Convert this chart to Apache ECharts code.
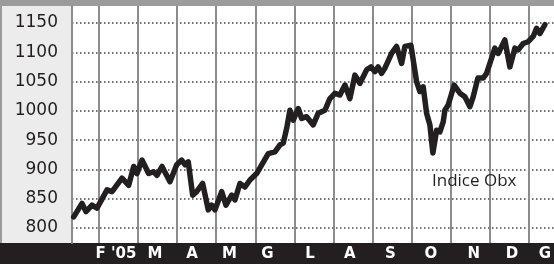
<!DOCTYPE html>
<html>
<head>
<meta charset="utf-8">
<script src="https://cdn.jsdelivr.net/npm/echarts@6/dist/echarts.min.js"></script>
<style>
  html, body { margin: 0; padding: 0; background: #fff; }
  #chart { width: 554px; height: 264px; }
</style>
</head>
<body>
<div id="chart"></div>
<script>
// x positions in months (1 = start of Feb 2005, 12 = start of Jan 2006)
const monthPos = [
  0.353, 0.565, 0.667, 0.821, 0.949, 1.205, 1.333, 1.588, 1.760, 1.888,
  1.972, 2.100, 2.271, 2.399, 2.484, 2.612, 2.816, 2.988, 3.116, 3.200,
  3.284, 3.397, 3.499, 3.653, 3.796, 3.883, 3.968, 4.139, 4.249, 4.395,
  4.479, 4.607, 4.735, 4.863, 5.034, 5.331, 5.502, 5.630, 5.715, 5.802,
  5.886, 5.971, 6.098, 6.185, 6.313, 6.482, 6.610, 6.782, 6.909, 7.037,
  7.165, 7.293, 7.421, 7.549, 7.677, 7.848, 7.958, 8.061, 8.145, 8.232,
  8.316, 8.488, 8.616, 8.744, 8.828, 8.982, 9.127, 9.212, 9.296, 9.383,
  9.468, 9.544, 9.639, 9.723, 9.808, 9.851, 9.936, 10.089, 10.235, 10.363,
  10.491, 10.575, 10.695, 10.831, 10.918, 11.130, 11.215, 11.386, 11.514, 11.642,
  11.727, 11.854, 11.982, 12.110, 12.197, 12.282, 12.410
];
const obxValues = [
  819, 842, 828, 839, 834, 865, 862, 885, 873, 905,
  893, 916, 893, 896, 890, 905, 879, 908, 916, 908,
  913, 856, 862, 876, 831, 839, 831, 862, 839, 856,
  848, 876, 870, 882, 893, 927, 930, 942, 945, 970,
  1001, 984, 1004, 987, 990, 976, 996, 1001, 1021, 1030,
  1027, 1044, 1021, 1061, 1047, 1070, 1075, 1067, 1075, 1064,
  1073, 1098, 1110, 1081, 1110, 1112, 1050, 1033, 1041, 996,
  976, 928, 967, 964, 981, 1001, 1010, 1044, 1030, 1024,
  1007, 1024, 1056, 1056, 1064, 1107, 1098, 1121, 1075, 1107,
  1104, 1115, 1118, 1127, 1141, 1132, 1147
];
const monthStarts = [1, 2, 3, 4, 5, 6, 7, 8, 9, 10, 11, 12];
const monthLabels = ["F '05", "M", "A", "M", "G", "L", "A", "S", "O", "N", "D", "G"];
const monthLabelPos = [1.435, 2.433, 3.379, 4.338, 5.311, 6.398, 7.421, 8.457, 9.493, 10.593, 11.565, 12.409];
const yTicks = [800, 850, 900, 950, 1000, 1050, 1100, 1150];

const chart = echarts.init(document.getElementById("chart"), null, { renderer: "canvas" });

chart.setOption({
  animation: false,
  backgroundColor: "#fff",
  grid: { left: 72, right: 0, top: 6, bottom: 21 },
  graphic: [
    { type: "rect", z: -10, shape: { x: 0, y: 0, width: 554, height: 6 }, style: { fill: "#9b9b9b" } },
    { type: "rect", z: -10, shape: { x: 0, y: 6, width: 72, height: 237 }, style: { fill: "#ececec" } },
    { type: "rect", z: -10, shape: { x: 0, y: 6, width: 2, height: 237 }, style: { fill: "#9b9b9b" } },
    { type: "rect", z: -10, shape: { x: 0, y: 243, width: 554, height: 21 }, style: { fill: "#231f20" } },
    {
      type: "text", left: 432, top: 173, z: 100,
      style: { text: "Indice Obx", font: "17px 'Open Sans', sans-serif", fill: "#231f20" }
    }
  ],
  xAxis: {
    type: "value",
    min: 0.309,
    max: 12.64,
    axisLine: { show: false },
    axisTick: { show: false, customValues: monthStarts },
    splitLine: { show: true, lineStyle: { color: "#8c8c8c", width: 2 } },
    axisLabel: {
      customValues: monthLabelPos,
      formatter: (v) => {
        const i = monthLabelPos.findIndex((p) => Math.abs(p - v) < 1e-6);
        return i >= 0 ? monthLabels[i] : "";
      },
      color: "#fff",
      fontFamily: "DejaVu Sans",
      fontWeight: "bold",
      fontSize: 15,
      lineHeight: 15,
      margin: 4,
      showMinLabel: true,
      showMaxLabel: true
    }
  },
  yAxis: {
    type: "value",
    min: 774.4,
    max: 1179,
    axisLine: { show: true, lineStyle: { color: "#8c8c8c", width: 2 } },
    axisTick: { show: false, customValues: yTicks },
    splitLine: { show: true, lineStyle: { color: "#444", width: 1.5, type: [1.5, 2.5] } },
    axisLabel: {
      customValues: yTicks,
      formatter: (v) => String(v),
      color: "#231f20",
      fontFamily: "DejaVu Sans",
      fontSize: 17,
      margin: 14
    }
  },
  series: [
    {
      name: "Indice Obx",
      type: "line",
      data: monthPos.map((m, i) => [m, obxValues[i]]),
      showSymbol: false,
      smooth: false,
      lineStyle: { color: "#231f20", width: 5.5, join: "round", cap: "round" },
      z: 5
    }
  ]
});
</script>
</body>
</html>
